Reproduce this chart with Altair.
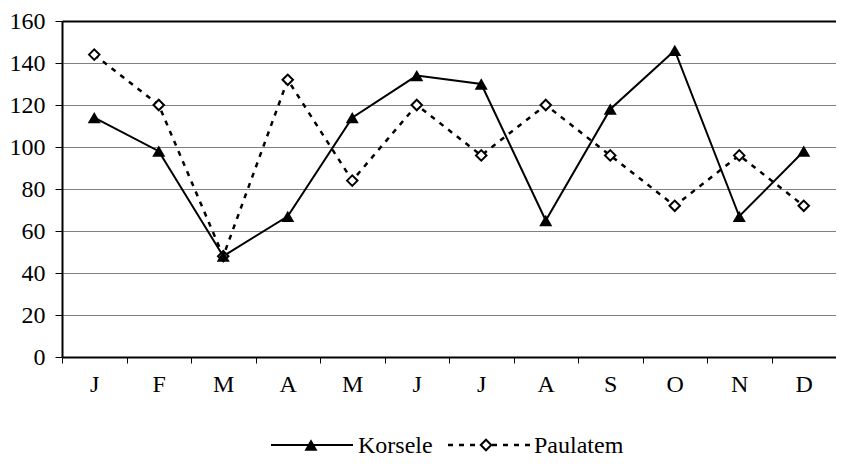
import json
import altair as alt
import pandas as pd

months = ["J", "F", "M", "A", "M", "J", "J", "A", "S", "O", "N", "D"]
korsele = [114, 98, 48, 67, 114, 134, 130, 65, 118, 146, 67, 98]
paulatem = [144, 120, 48, 132, 84, 120, 96, 120, 96, 72, 96, 72]
series = ["Korsele", "Paulatem"]
y_ticks = [0, 20, 40, 60, 80, 100, 120, 140, 160]

FONT = "Liberation Serif"

df = pd.DataFrame({
    "idx": list(range(len(months))) * 2,
    "month": months * 2,
    "series": [series[0]] * len(months) + [series[1]] * len(months),
    "value": korsele + paulatem,
})

label_expr = f"{json.dumps(months)}[datum.value]"

x = alt.X(
    "idx:O",
    scale=alt.Scale(type="band", paddingInner=0, paddingOuter=0),
    axis=alt.Axis(
        title=None, labelExpr=label_expr, labelAngle=0, tickBand="extent",
        tickSize=6, tickColor="black", tickWidth=1,
        domainColor="black", domainWidth=2, labelPadding=9, grid=False,
        labelFontSize=24, labelFont=FONT, labelColor="black",
    ),
)
y = alt.Y(
    "value:Q",
    scale=alt.Scale(domain=[0, 160], nice=False),
    axis=alt.Axis(
        title=None, values=y_ticks, tickSize=7, tickColor="black", tickWidth=1,
        domainColor="black", domainWidth=2, labelPadding=10,
        labelFontSize=24, labelFont=FONT, labelColor="black",
        grid=True,
        gridColor={"condition": {"test": "datum.value === 160", "value": "black"}, "value": "#808080"},
        gridWidth={"condition": {"test": "datum.value === 160", "value": 2}, "value": 1},
    ),
)

base = alt.Chart(df).encode(x=x, y=y)
k_data = base.transform_filter(alt.datum.series == series[0])
p_data = base.transform_filter(alt.datum.series == series[1])

p_line = p_data.mark_line(color="black", strokeWidth=2.5, strokeDash=[5, 6])
k_line = k_data.mark_line(color="black", strokeWidth=2)
p_pts = p_data.mark_point(shape="diamond", filled=True, fill="white", stroke="black",
                          strokeWidth=2, size=110, opacity=1)
k_pts = k_data.mark_point(shape="triangle-up", filled=True, color="black", size=170, opacity=1)

# legend
leg_k = alt.Chart(pd.DataFrame({"name": [series[0]]}))
leg_p = alt.Chart(pd.DataFrame({"name": [series[1]]}))
LY = 424
lk_line = leg_k.mark_rule(color="black", strokeWidth=2).encode(
    x=alt.value(209), x2=alt.value(291), y=alt.value(LY))
lk_pt = leg_k.mark_point(shape="triangle-up", filled=True, color="black", size=170, opacity=1).encode(
    x=alt.value(249), y=alt.value(LY))
lk_txt = leg_k.mark_text(align="left", baseline="alphabetic", fontSize=24, font=FONT, color="black").encode(
    x=alt.value(296), y=alt.value(LY + 8), text="name:N")
lp_line = leg_p.mark_rule(color="black", strokeWidth=2.5, strokeDash=[5, 6]).encode(
    x=alt.value(386), x2=alt.value(469), y=alt.value(LY))
lp_pt = leg_p.mark_point(shape="diamond", filled=True, fill="white", stroke="black",
                         strokeWidth=2, size=110, opacity=1).encode(
    x=alt.value(424), y=alt.value(LY))
lp_txt = leg_p.mark_text(align="left", baseline="alphabetic", fontSize=24, font=FONT, color="black").encode(
    x=alt.value(472), y=alt.value(LY + 8), text="name:N")

chart = alt.layer(
    p_line, k_line, p_pts, k_pts,
    lk_line, lk_pt, lk_txt, lp_line, lp_pt, lp_txt,
).properties(
    width=774, height=336,
    autosize=alt.AutoSizeParams(type="none"),
    padding={"left": 54, "top": 13, "right": 0, "bottom": 101},
).configure_view(
    stroke="#c0c0c0", strokeWidth=1
).configure_axis(
    labelFont=FONT
).configure_text(
    font=FONT
)

chart.save("out.html", embed_options={"renderer": "svg", "actions": False})
